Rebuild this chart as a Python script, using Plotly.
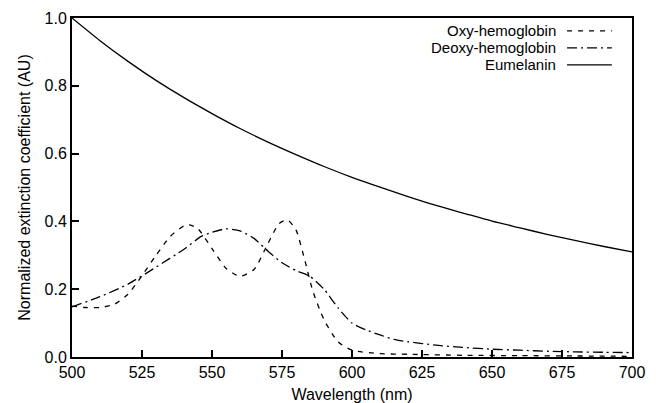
import plotly.graph_objects as go

# Wavelength grids (nm) and normalized extinction values
oxy_wl = [500, 505, 510, 515, 520, 525, 530, 535, 540, 542, 545, 550, 555, 560, 565,
          570, 574, 577, 580, 583, 586, 590, 595, 600, 610, 620, 640, 660, 680, 700]
oxy_val = [0.150, 0.146, 0.146, 0.155, 0.185, 0.240, 0.300, 0.355, 0.387, 0.390, 0.378,
           0.320, 0.262, 0.238, 0.258, 0.335, 0.394, 0.404, 0.375, 0.290, 0.195, 0.110,
           0.045, 0.020, 0.010, 0.008, 0.005, 0.004, 0.003, 0.002]

deoxy_wl = [500, 510, 520, 530, 540, 546, 550, 555, 560, 565, 570, 575, 580, 585, 590,
            595, 600, 605, 610, 615, 620, 630, 640, 650, 660, 670, 680, 690, 700]
deoxy_val = [0.148, 0.178, 0.215, 0.265, 0.318, 0.355, 0.368, 0.378, 0.372, 0.350, 0.312,
             0.278, 0.255, 0.238, 0.200, 0.145, 0.100, 0.080, 0.065, 0.052, 0.045, 0.035,
             0.028, 0.023, 0.020, 0.017, 0.015, 0.014, 0.013]

mel_wl = [500, 510, 520, 530, 540, 550, 560, 570, 580, 590, 600, 610, 620, 630, 640,
          650, 660, 670, 680, 690, 700]
mel_val = [1.000, 0.933, 0.872, 0.816, 0.765, 0.718, 0.674, 0.634, 0.597, 0.562, 0.530,
           0.501, 0.473, 0.447, 0.424, 0.401, 0.381, 0.361, 0.343, 0.326, 0.310]

series_names = ["Oxy-hemoglobin", "Deoxy-hemoglobin", "Eumelanin"]
dashes = ["5px,6px", "10px,4px,2px,4px", "solid"]

x_ticks = [500, 525, 550, 575, 600, 625, 650, 675, 700]
y_ticks = [0.0, 0.2, 0.4, 0.6, 0.8, 1.0]

FONT = "Liberation Sans, Arial, Helvetica, sans-serif"

fig = go.Figure()
for wl, val, name, dash in zip([oxy_wl, deoxy_wl, mel_wl], [oxy_val, deoxy_val, mel_val],
                               series_names, dashes):
    fig.add_trace(go.Scatter(x=wl, y=val, mode="lines", name=name, showlegend=False,
                             line=dict(color="black", width=1.3, dash=dash, shape="spline",
                                       smoothing=0.6)))

# Custom legend (text right-aligned, line sample on the right)
leg_y = [0.962, 0.912, 0.862]
for name, dash, yy in zip(series_names, dashes, leg_y):
    fig.add_annotation(x=0.866, y=yy, xref="paper", yref="paper", text=name,
                       showarrow=False, xanchor="right", yanchor="middle",
                       borderpad=0,
                       font=dict(family=FONT, size=15, color="black"))
    fig.add_shape(type="line", xref="paper", yref="paper", x0=0.884, x1=0.964,
                  y0=yy, y1=yy, line=dict(color="black", width=1.3, dash=dash))

fig.update_layout(
    width=656, height=403,
    margin=dict(l=72, r=24, t=18, b=46),
    plot_bgcolor="white", paper_bgcolor="white",
    font=dict(family=FONT, size=16, color="black"),
    showlegend=False,
)
fig.update_xaxes(range=[500, 700], tickvals=x_ticks, ticks="inside", ticklen=7,
                 tickwidth=1.5, tickcolor="black", showline=True, linecolor="black",
                 linewidth=2, mirror=True, showgrid=False, zeroline=False,
                 automargin=False,
                 title=dict(text="Wavelength (nm)", font=dict(size=16), standoff=14),
                 tickfont=dict(size=16))
fig.update_yaxes(range=[0, 1.0], tickvals=y_ticks, tickformat=".1f", ticks="inside",
                 ticklen=7, tickwidth=1.5, tickcolor="black", showline=True,
                 linecolor="black", linewidth=2, mirror=True, showgrid=False,
                 zeroline=False, automargin=False,
                 title=dict(text="Normalized extinction coefficient (AU)",
                            font=dict(size=16), standoff=10),
                 tickfont=dict(size=16))

fig.write_html("out.html")
